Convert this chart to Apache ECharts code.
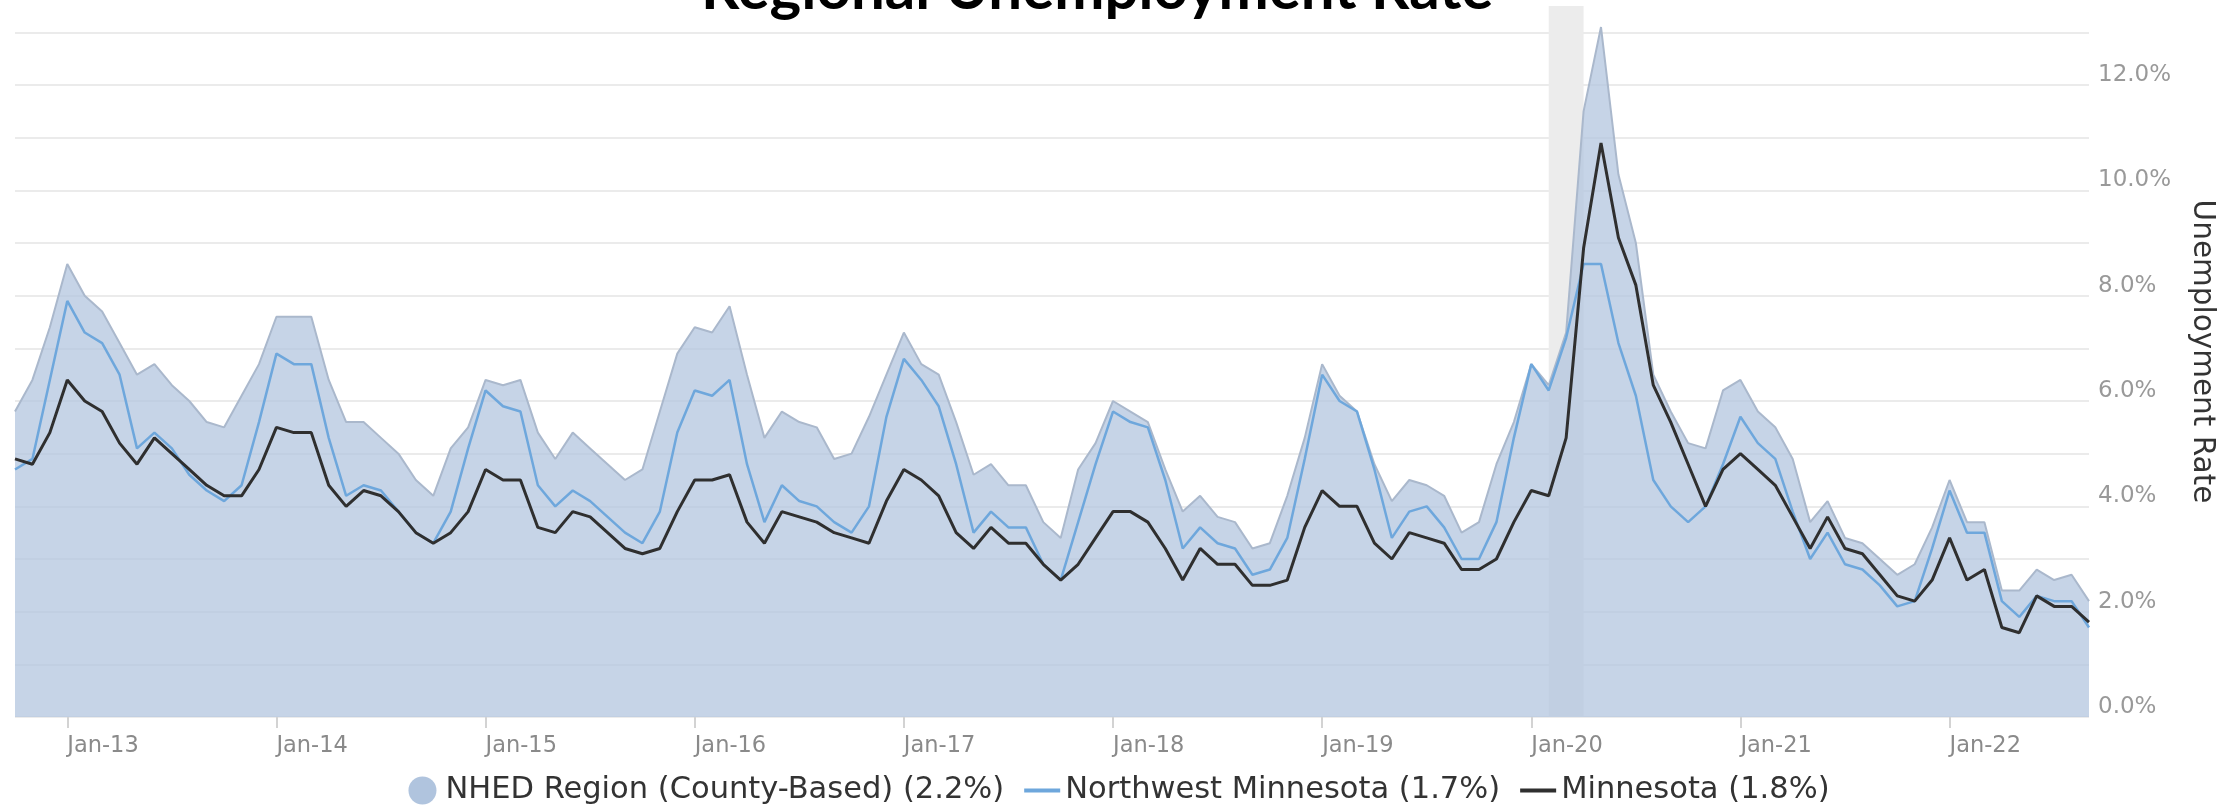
<!DOCTYPE html>
<html>
<head>
<meta charset="utf-8">
<script src="https://cdn.jsdelivr.net/npm/echarts@6/dist/echarts.min.js"></script>
<style>
html,body{margin:0;padding:0;background:#ffffff;}
#chart{width:2238px;height:809px;}
</style>
</head>
<body>
<div id="chart"></div>
<script>
const categories = [
  'Oct-12','Nov-12','Dec-12',
  'Jan-13','Feb-13','Mar-13','Apr-13','May-13','Jun-13','Jul-13','Aug-13','Sep-13','Oct-13','Nov-13','Dec-13',
  'Jan-14','Feb-14','Mar-14','Apr-14','May-14','Jun-14','Jul-14','Aug-14','Sep-14','Oct-14','Nov-14','Dec-14',
  'Jan-15','Feb-15','Mar-15','Apr-15','May-15','Jun-15','Jul-15','Aug-15','Sep-15','Oct-15','Nov-15','Dec-15',
  'Jan-16','Feb-16','Mar-16','Apr-16','May-16','Jun-16','Jul-16','Aug-16','Sep-16','Oct-16','Nov-16','Dec-16',
  'Jan-17','Feb-17','Mar-17','Apr-17','May-17','Jun-17','Jul-17','Aug-17','Sep-17','Oct-17','Nov-17','Dec-17',
  'Jan-18','Feb-18','Mar-18','Apr-18','May-18','Jun-18','Jul-18','Aug-18','Sep-18','Oct-18','Nov-18','Dec-18',
  'Jan-19','Feb-19','Mar-19','Apr-19','May-19','Jun-19','Jul-19','Aug-19','Sep-19','Oct-19','Nov-19','Dec-19',
  'Jan-20','Feb-20','Mar-20','Apr-20','May-20','Jun-20','Jul-20','Aug-20','Sep-20','Oct-20','Nov-20','Dec-20',
  'Jan-21','Feb-21','Mar-21','Apr-21','May-21','Jun-21','Jul-21','Aug-21','Sep-21','Oct-21','Nov-21','Dec-21',
  'Jan-22','Feb-22','Mar-22','Apr-22','May-22','Jun-22','Jul-22','Aug-22','Sep-22'
];

const xTickLabels = ['Jan-13','Jan-14','Jan-15','Jan-16','Jan-17','Jan-18','Jan-19','Jan-20','Jan-21','Jan-22'];
const yTickLabels = [0, 2, 4, 6, 8, 10, 12];
const recessionBand = ['Feb-20', 'Apr-20'];

const seriesNames = [
  'NHED Region (County-Based) (2.2%)',
  'Northwest Minnesota (1.7%)',
  'Minnesota (1.8%)'
];

const nhedRegion = [
  5.8,6.4,7.4,8.6,8.0,7.7,7.1,6.5,6.7,6.3,6.0,5.6,
  5.5,6.1,6.7,7.6,7.6,7.6,6.4,5.6,5.6,5.3,5.0,4.5,
  4.2,5.1,5.5,6.4,6.3,6.4,5.4,4.9,5.4,5.1,4.8,4.5,
  4.7,5.8,6.9,7.4,7.3,7.8,6.5,5.3,5.8,5.6,5.5,4.9,
  5.0,5.7,6.5,7.3,6.7,6.5,5.6,4.6,4.8,4.4,4.4,3.7,
  3.4,4.7,5.2,6.0,5.8,5.6,4.7,3.9,4.2,3.8,3.7,3.2,
  3.3,4.2,5.3,6.7,6.1,5.8,4.8,4.1,4.5,4.4,4.2,3.5,
  3.7,4.8,5.6,6.7,6.3,7.3,11.5,13.1,10.3,9.0,6.5,5.8,
  5.2,5.1,6.2,6.4,5.8,5.5,4.9,3.7,4.1,3.4,3.3,3.0,
  2.7,2.9,3.6,4.5,3.7,3.7,2.4,2.4,2.8,2.6,2.7,2.2
];

const northwestMinnesota = [
  4.7,4.9,6.4,7.9,7.3,7.1,6.5,5.1,5.4,5.1,4.6,4.3,
  4.1,4.4,5.6,6.9,6.7,6.7,5.3,4.2,4.4,4.3,3.9,3.5,
  3.3,3.9,5.1,6.2,5.9,5.8,4.4,4.0,4.3,4.1,3.8,3.5,
  3.3,3.9,5.4,6.2,6.1,6.4,4.8,3.7,4.4,4.1,4.0,3.7,
  3.5,4.0,5.7,6.8,6.4,5.9,4.8,3.5,3.9,3.6,3.6,2.9,
  2.6,3.7,4.8,5.8,5.6,5.5,4.5,3.2,3.6,3.3,3.2,2.7,
  2.8,3.4,4.9,6.5,6.0,5.8,4.7,3.4,3.9,4.0,3.6,3.0,
  3.0,3.7,5.3,6.7,6.2,7.2,8.6,8.6,7.1,6.1,4.5,4.0,
  3.7,4.0,4.8,5.7,5.2,4.9,3.9,3.0,3.5,2.9,2.8,2.5,
  2.1,2.2,3.2,4.3,3.5,3.5,2.2,1.9,2.3,2.2,2.2,1.7
];

const minnesota = [
  4.9,4.8,5.4,6.4,6.0,5.8,5.2,4.8,5.3,5.0,4.7,4.4,
  4.2,4.2,4.7,5.5,5.4,5.4,4.4,4.0,4.3,4.2,3.9,3.5,
  3.3,3.5,3.9,4.7,4.5,4.5,3.6,3.5,3.9,3.8,3.5,3.2,
  3.1,3.2,3.9,4.5,4.5,4.6,3.7,3.3,3.9,3.8,3.7,3.5,
  3.4,3.3,4.1,4.7,4.5,4.2,3.5,3.2,3.6,3.3,3.3,2.9,
  2.6,2.9,3.4,3.9,3.9,3.7,3.2,2.6,3.2,2.9,2.9,2.5,
  2.5,2.6,3.6,4.3,4.0,4.0,3.3,3.0,3.5,3.4,3.3,2.8,
  2.8,3.0,3.7,4.3,4.2,5.3,8.9,10.9,9.1,8.2,6.3,5.6,
  4.8,4.0,4.7,5.0,4.7,4.4,3.8,3.2,3.8,3.2,3.1,2.7,
  2.3,2.2,2.6,3.4,2.6,2.8,1.7,1.6,2.3,2.1,2.1,1.8
];

const chart = echarts.init(document.getElementById('chart'), null, { renderer: 'canvas' });
const isTickMonth = function (idx, val) { return xTickLabels.indexOf(val) >= 0; };
const lineIcon = 'path://M0,0 L36,0 L36,4 L0,4 Z';

chart.setOption({
  animation: false,
  backgroundColor: '#ffffff',
  title: {
    text: 'Regional Unemployment Rate',
    left: 696,
    top: -45,
    textStyle: { fontFamily: 'Lato', fontWeight: 'bold', fontSize: 60, color: '#000000' }
  },
  grid: { left: 15, right: 149, top: 6, bottom: 92 },
  legend: {
    left: 'center',
    top: 770,
    itemGap: 20,
    itemWidth: 36,
    itemHeight: 28,
    textStyle: { fontFamily: 'DejaVu Sans', fontSize: 30.5, color: '#333333' },
    data: [
      { name: seriesNames[0], icon: 'circle' },
      { name: seriesNames[1], icon: lineIcon },
      { name: seriesNames[2], icon: lineIcon }
    ]
  },
  xAxis: {
    type: 'category',
    data: categories,
    boundaryGap: false,
    axisLine: { show: false },
    axisTick: { show: true, interval: isTickMonth, length: 11, lineStyle: { color: '#d3d3d3', width: 2 } },
    axisLabel: { interval: isTickMonth, align: 'left', margin: 18, color: '#8a8a8a', fontFamily: 'DejaVu Sans', fontSize: 22.5 },
    splitLine: { show: false }
  },
  yAxis: {
    type: 'value',
    position: 'right',
    min: 0,
    max: 13.5,
    interval: 1,
    axisLine: { show: false },
    axisTick: { show: false },
    axisLabel: {
      formatter: function (v) { return yTickLabels.indexOf(v) >= 0 ? v.toFixed(1) + '%' : ''; },
      margin: 9,
      color: '#999999',
      fontFamily: 'DejaVu Sans',
      fontSize: 23,
      verticalAlign: 'bottom',
      lineHeight: 20
    },
    splitLine: { show: true, showMaxLine: false, lineStyle: { color: '#ebebeb', width: 2 } },
    name: 'Unemployment Rate',
    nameLocation: 'middle',
    nameRotate: -90,
    nameGap: 98,
    nameTextStyle: { fontFamily: 'DejaVu Sans', fontSize: 29.5, color: '#333333', padding: [0, 20, 0, 0] }
  },
  series: [
    {
      name: 'Recession',
      type: 'line',
      data: [],
      z: 1,
      silent: true,
      markArea: {
        silent: true,
        itemStyle: { color: '#ececec' },
        data: [[{ xAxis: recessionBand[0] }, { xAxis: recessionBand[1] }]]
      }
    },
    {
      name: seriesNames[0],
      type: 'line',
      data: nhedRegion,
      z: 2,
      symbol: 'none',
      lineStyle: { color: '#aab8cc', width: 2 },
      areaStyle: { color: 'rgba(176,196,222,0.72)', opacity: 1 },
      itemStyle: { color: '#b0c4de' }
    },
    {
      name: seriesNames[1],
      type: 'line',
      data: northwestMinnesota,
      z: 3,
      symbol: 'none',
      lineStyle: { color: '#6ea7dc', width: 2.5 },
      itemStyle: { color: '#6ea7dc' }
    },
    {
      name: seriesNames[2],
      type: 'line',
      data: minnesota,
      z: 4,
      symbol: 'none',
      lineStyle: { color: '#2f2f2f', width: 3 },
      itemStyle: { color: '#2f2f2f' }
    }
  ]
});
</script>
</body>
</html>
